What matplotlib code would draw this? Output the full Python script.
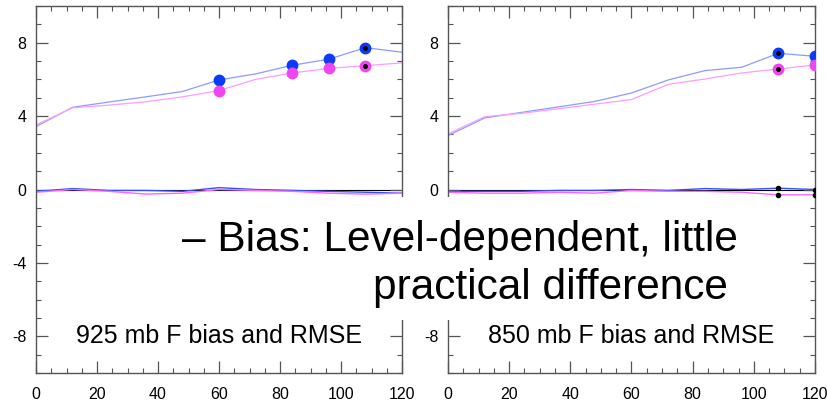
import numpy as np
import matplotlib
matplotlib.use('Agg')
import matplotlib.pyplot as plt
from matplotlib.patches import Rectangle

plt.rcParams['font.family'] = ['Liberation Sans', 'DejaVu Sans']
plt.rcParams['axes.unicode_minus'] = False

# Forecast hours
hours = [0, 12, 24, 36, 48, 60, 72, 84, 96, 108, 120]

# 925 mb
rmse_blue_925 = [3.43, 4.48, 4.77, 5.05, 5.34, 5.97, 6.30, 6.77, 7.10, 7.73, 7.48]
rmse_pink_925 = [3.52, 4.45, 4.60, 4.78, 5.05, 5.39, 6.00, 6.35, 6.60, 6.75, 6.90]
bias_blue_925 = [-0.10, 0.05, -0.05, -0.05, -0.10, 0.10, 0.00, -0.05, -0.10, -0.15, -0.20]
bias_pink_925 = [-0.15, 0.00, -0.10, -0.25, -0.20, 0.00, -0.05, -0.10, -0.20, -0.25, -0.20]
dots_925 = [60, 84, 96, 108]        # hours with big markers
centers_925 = [108]                 # big markers with black centre
bias_dots_925 = []

# 850 mb
rmse_blue_850 = [2.94, 3.90, 4.20, 4.50, 4.80, 5.26, 5.97, 6.48, 6.66, 7.42, 7.26]
rmse_pink_850 = [3.03, 3.97, 4.15, 4.40, 4.65, 4.90, 5.73, 6.02, 6.35, 6.57, 6.79]
bias_blue_850 = [-0.10, -0.10, -0.10, -0.05, -0.05, 0.00, -0.05, 0.05, 0.00, 0.07, 0.00]
bias_pink_850 = [-0.15, -0.20, -0.20, -0.15, -0.20, -0.05, -0.10, -0.10, -0.15, -0.29, -0.29]
dots_850 = [108, 120]
centers_850 = [108]
bias_dots_850 = [108, 120]

yticks = [-8, -4, 0, 4, 8]
titles = ['925 mb F bias and RMSE', '850 mb F bias and RMSE']

W, H = 828, 404
fig = plt.figure(figsize=(W / 100, H / 100), dpi=100)


def panel(rect, rb, rp, bb, bp, dots, centers, bdots, title, ylabels):
    ax = fig.add_axes(rect)
    ax.axhline(0, color='black', lw=0.8, zorder=1)
    ax.plot(hours, rb, color='#8c9cff', lw=0.9, zorder=2)
    ax.plot(hours, rp, color='#ff9cff', lw=0.9, zorder=2)
    ax.plot(hours, bb, color='#3350ff', lw=1.0, zorder=2)
    ax.plot(hours, bp, color='#ff66ff', lw=1.0, zorder=2)
    idx = [hours.index(h) for h in dots]
    ax.plot(dots, [rb[i] for i in idx], 'o', color='#0b3cf5', ms=7.5, zorder=3)
    ax.plot(dots, [rp[i] for i in idx], 'o', color='#f046f0', ms=7.5, zorder=3)
    idx = [hours.index(h) for h in centers]
    ax.plot(centers, [rb[i] for i in idx], 'o', color='black', ms=2.5, zorder=4)
    ax.plot(centers, [rp[i] for i in idx], 'o', color='black', ms=2.5, zorder=4)
    if bdots:
        idx = [hours.index(h) for h in bdots]
        ax.plot(bdots, [bb[i] for i in idx], 'o', color='black', ms=3, zorder=4)
        ax.plot(bdots, [bp[i] for i in idx], 'o', color='black', ms=3, zorder=4)
    ax.set_xlim(0, 120)
    ax.set_ylim(-10, 10)
    ax.set_xticks(np.arange(0, 121, 20))
    ax.set_xticks(np.arange(0, 121, 5), minor=True)
    ax.set_yticks(yticks)
    ax.set_yticklabels(ylabels)
    ax.set_yticks(np.arange(-10, 11, 1), minor=True)
    ax.tick_params(which='both', direction='in', top=True, right=True,
                   color='#555555', labelsize=11.5)
    ax.tick_params(axis='x', pad=10)
    ax.tick_params(axis='y', pad=7)
    ax.tick_params(which='major', length=8.5, width=0.9)
    ax.tick_params(which='minor', length=3.8, width=0.8)
    for s in ax.spines.values():
        s.set_color('#555555')
        s.set_linewidth(1.0)
    ax.text(60, -8, title, ha='center', va='center', fontsize=18)
    return ax


bot, top = 1 - 373 / H, 1 - 6 / H
panel([36 / W, bot, 366 / W, top - bot], rmse_blue_925, rmse_pink_925,
      bias_blue_925, bias_pink_925, dots_925, centers_925, bias_dots_925,
      titles[0], [str(t) for t in yticks])
# the -4 label of the right panel sits under the text box
panel([448 / W, bot, 367 / W, top - bot], rmse_blue_850, rmse_pink_850,
      bias_blue_850, bias_pink_850, dots_850, centers_850, bias_dots_850,
      titles[1], [str(t) if t != -4 else '' for t in yticks])

# white text box over both panels
fig.patches.append(Rectangle((172 / W, 1 - 320 / H), (750 - 172) / W, (320 - 197) / H,
                             transform=fig.transFigure, facecolor='white',
                             edgecolor='none', zorder=10))
fig.text(182 / W, 1 - 251 / H, '\u2013 Bias: Level-dependent, little',
         ha='left', va='baseline', fontsize=30.5, zorder=11)
fig.text(373 / W, 1 - 299 / H, 'practical difference',
         ha='left', va='baseline', fontsize=30.5, zorder=11)

fig.savefig('out.png', dpi=100)
